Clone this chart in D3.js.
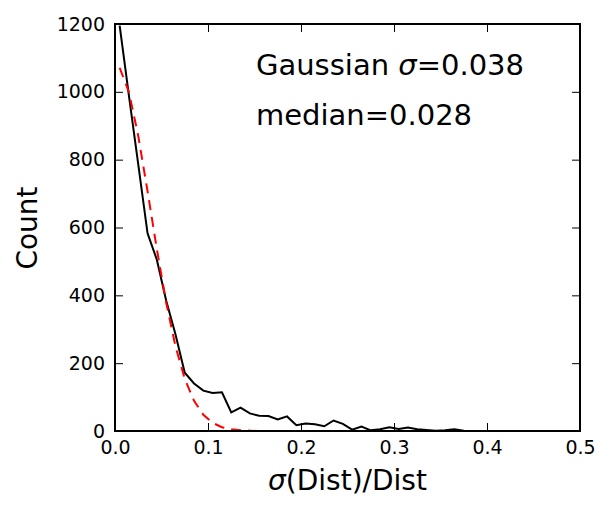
<!DOCTYPE html>
<html>
<head>
<meta charset="utf-8">
<script src="https://cdn.jsdelivr.net/npm/d3@7"></script>
<style>
  html, body { margin: 0; padding: 0; background: #fff; }
  svg { display: block; font-family: "DejaVu Sans", sans-serif; }
</style>
</head>
<body>
<svg id="chart" width="611" height="515"></svg>
<script>
// Bin centres (sigma(Dist)/Dist)
const binCenters = [0.005,0.015,0.025,0.035,0.045,0.055,0.065,0.075,0.085,0.095,
  0.105,0.115,0.125,0.135,0.145,0.155,0.165,0.175,0.185,0.195,
  0.205,0.215,0.225,0.235,0.245,0.255,0.265,0.275,0.285,0.295,
  0.305,0.315,0.325,0.335,0.345,0.355,0.365,0.375,0.385,0.395,
  0.405,0.415,0.425,0.435,0.445,0.455,0.465,0.475,0.485,0.495];
// Observed counts (black line)
const counts = [1195,988,786,583,505,385,285,172,140,119,
  112,114,55,69,52,45,44,34,43,17,
  22,20,14,31,21,4,13,2,5,11,
  6,10,5,3,1,2,5,1,0,0,
  0,0,0,0,0,0,0,0,0,0];
// Gaussian fit
const gaussFit = [1071,999,870,707,536,379,250,154,89,48,
  24,11,5,2,1,0,0,0,0,0,
  0,0,0,0,0,0,0,0,0,0,
  0,0,0,0,0,0,0,0,0,0,
  0,0,0,0,0,0,0,0,0,0];
const xTicks = [0.0,0.1,0.2,0.3,0.4,0.5];
const yTicks = [0,200,400,600,800,1000,1200];
const annotations = [
  {pre: "Gaussian ", sym: "σ", post: "=0.038"},
  {pre: "median=0.028", sym: "", post: ""}
];

const svg = d3.select("#chart");
const L = 115, R = 580, T = 24, B = 431;
const x = d3.scaleLinear().domain([0, 0.5]).range([L, R]);
const y = d3.scaleLinear().domain([0, 1200]).range([B, T]);

svg.append("defs").append("clipPath").attr("id", "clip")
  .append("rect").attr("x", L).attr("y", T).attr("width", R - L).attr("height", B - T);

const fs = "19px";
// axes
const gB = svg.append("g").attr("transform", `translate(0,${B})`)
  .call(d3.axisBottom(x).tickValues(xTicks).tickFormat(d3.format(".1f")).tickSizeInner(-8).tickSizeOuter(0).tickPadding(10));
const gT = svg.append("g").attr("transform", `translate(0,${T})`)
  .call(d3.axisTop(x).tickValues(xTicks).tickFormat("").tickSizeInner(-8).tickSizeOuter(0));
const gL = svg.append("g").attr("transform", `translate(${L},0)`)
  .call(d3.axisLeft(y).tickValues(yTicks).tickFormat(d3.format("d")).tickSizeInner(-8).tickSizeOuter(0).tickPadding(10));
const gR = svg.append("g").attr("transform", `translate(${R},0)`)
  .call(d3.axisRight(y).tickValues(yTicks).tickFormat("").tickSizeInner(-8).tickSizeOuter(0));
[gB, gT, gL, gR].forEach(g => {
  g.select(".domain").remove();
  g.selectAll(".tick line").attr("stroke", "#000").attr("stroke-width", 1);
  g.selectAll(".tick text").attr("fill", "#000").style("font-size", fs).style("font-family", "DejaVu Sans");
});

const lineGen = d3.line().x((d, i) => x(binCenters[i])).y(d => y(d));
const plot = svg.append("g").attr("clip-path", "url(#clip)");
plot.append("path").datum(counts).attr("d", lineGen)
  .attr("fill", "none").attr("stroke", "#000").attr("stroke-width", 2).attr("stroke-linejoin", "miter");
plot.append("path").datum(gaussFit).attr("d", lineGen)
  .attr("fill", "none").attr("stroke", "#ff0000").attr("stroke-width", 2).attr("stroke-dasharray", "10,7");

// frame
svg.append("rect").attr("x", L).attr("y", T).attr("width", R - L).attr("height", B - T)
  .attr("fill", "none").attr("stroke", "#000").attr("stroke-width", 2);

// annotations
const annY = [75, 125];
annotations.forEach((a, i) => {
  const t = svg.append("text").attr("x", 256).attr("y", annY[i]).style("font-size", "29px").attr("fill", "#000");
  t.append("tspan").text(a.pre);
  if (a.sym) t.append("tspan").style("font-style", "italic").text(a.sym);
  if (a.post) t.append("tspan").text(a.post);
});

// axis labels
const xl = svg.append("text").attr("x", (L + R) / 2).attr("y", 490).attr("text-anchor", "middle")
  .style("font-size", "28px").attr("fill", "#000");
xl.append("tspan").style("font-style", "italic").text("σ");
xl.append("tspan").text("(Dist)/Dist");

svg.append("text").attr("transform", "translate(37,228) rotate(-90)").attr("text-anchor", "middle")
  .style("font-size", "28px").attr("fill", "#000").text("Count");
</script>
</body>
</html>
